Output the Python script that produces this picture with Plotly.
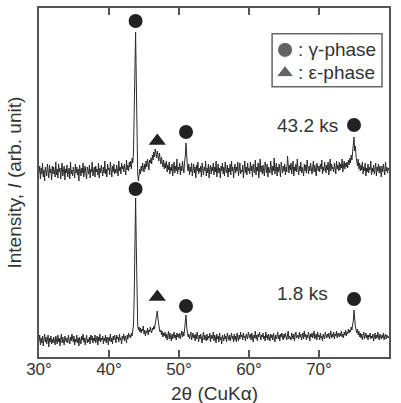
import numpy as np
import plotly.graph_objects as go

# 2-theta grid (degrees), 0.1 deg step
two_theta = np.round(np.linspace(30.0, 80.0, 501), 1)

# Upper pattern: 43.2 ks (arbitrary intensity units), one row per degree
upper_432ks = [
    184,191,178,189,183,194,180,187,176,190,
    185,181,193,186,179,192,184,188,177,191,
    183,190,186,180,195,182,188,179,193,185,
    189,178,187,194,181,186,191,177,188,184,
    192,180,186,189,178,195,183,187,181,190,
    186,179,193,184,190,182,188,176,192,185,
    181,189,184,194,180,187,191,183,178,190,
    187,183,192,179,188,185,195,181,186,190,
    180,191,185,188,182,194,179,189,184,192,
    186,181,190,184,196,183,188,180,193,187,
    189,182,195,186,180,191,185,193,183,188,
    184,192,187,181,196,186,190,183,194,188,
    191,185,193,188,182,197,187,192,186,195,
    190,196,188,199,194,205,240,295,325,275,
    215,184,176,181,188,183,191,186,194,189,
    185,193,188,196,190,198,192,187,197,194,
    199,193,202,197,205,200,208,203,199,206,
    201,196,204,198,193,200,195,190,197,188,
    194,189,196,185,192,187,195,183,190,186,
    193,181,189,195,184,191,186,198,183,190,
    187,194,182,191,186,196,189,184,195,201,
    214,199,190,186,193,182,190,185,194,181,
    188,193,184,190,179,192,186,195,183,189,
    185,191,180,194,187,182,190,186,196,181,
    189,184,193,179,188,192,183,190,186,194,
    182,190,185,196,180,188,193,184,189,179,
    191,186,194,183,190,181,195,187,184,192,
    180,189,185,193,182,196,186,190,179,188,
    193,184,190,186,195,181,189,194,183,187,
    185,192,179,188,196,184,190,182,194,186,
    189,183,195,186,191,180,193,187,184,197,
    182,190,186,194,179,189,198,185,191,183,
    192,186,181,195,188,184,193,180,190,187,
    184,196,189,182,191,186,199,183,188,194,
    181,190,185,193,187,180,195,189,184,191,
    186,193,182,190,185,201,188,184,192,187,
    194,183,189,196,181,190,186,193,185,198,
    188,182,191,186,195,184,190,187,181,193,
    186,192,184,197,189,183,191,186,194,188,
    183,190,196,185,192,187,181,194,189,186,
    191,185,193,188,197,183,190,186,195,189,
    184,192,187,195,182,190,198,186,193,188,
    190,185,194,189,183,196,188,192,186,195,
    187,193,189,198,185,191,196,188,194,190,
    195,189,197,192,199,194,202,197,205,210,
    220,206,211,200,196,191,198,188,194,186,
    192,187,195,183,190,186,194,181,189,185,
    193,184,190,187,196,182,189,185,192,183,
    188,194,181,190,186,193,184,191,187,180,
    191,185,193,188,182,195,186,190,184,189,
    187,
]

# Lower pattern: 1.8 ks
lower_18ks = [
    16,22,12,19,14,21,11,18,23,15,
    20,13,17,22,10,19,15,21,13,18,
    14,20,16,12,21,17,13,22,15,19,
    11,18,23,14,20,16,12,21,17,15,
    19,14,22,17,13,20,16,23,18,15,
    21,12,18,15,22,14,19,11,20,16,
    13,21,17,23,15,19,12,18,22,14,
    18,15,20,13,22,17,21,14,19,16,
    22,14,18,21,12,20,16,23,15,19,
    17,21,13,19,16,22,14,20,18,12,
    20,16,23,15,19,13,21,17,22,18,
    14,22,18,20,15,23,17,19,13,21,
    18,23,16,21,19,14,22,18,24,20,
    22,19,24,21,26,32,60,120,159,110,
    50,32,27,30,25,29,24,28,26,31,
    23,27,21,26,24,29,22,27,25,30,
    26,24,29,27,31,28,33,37,41,46,
    38,31,28,25,27,22,26,20,24,21,
    25,19,23,17,22,26,18,24,20,16,
    23,18,21,25,19,22,17,24,20,23,
    19,24,18,22,26,20,25,21,28,32,
    42,30,24,20,23,18,22,25,17,21,
    24,19,22,16,23,18,25,20,15,22,
    18,23,20,14,21,25,17,22,19,16,
    23,17,21,19,24,15,22,18,20,25,
    16,22,19,14,23,18,21,15,24,17,
    20,13,22,19,16,23,18,21,15,24,
    19,17,22,16,20,24,18,21,15,23,
    17,21,15,24,19,16,22,18,25,20,
    22,17,24,19,21,16,23,20,18,25,
    21,19,23,17,24,20,15,22,19,26,
    18,22,16,23,20,25,19,17,22,20,
    24,18,21,16,25,19,22,17,23,20,
    16,23,19,22,17,24,20,15,22,18,
    21,25,18,22,16,23,20,24,19,17,
    23,19,24,20,17,22,26,18,21,19,
    17,24,21,18,23,16,22,25,19,21,
    22,18,25,20,23,17,21,24,18,26,
    20,23,17,22,19,25,21,16,23,20,
    24,19,22,26,18,21,23,17,25,20,
    22,17,24,19,21,16,23,20,18,25,
    21,19,23,20,24,18,22,26,19,23,
    20,25,18,23,21,26,19,24,22,20,
    24,21,26,20,23,19,25,22,27,21,
    25,23,28,24,27,25,30,27,32,36,
    47,35,30,27,24,28,22,26,20,24,
    19,23,17,22,25,18,21,24,19,22,
    17,22,20,24,18,21,19,23,16,21,
    24,18,22,19,25,20,17,23,21,18,
    22,19,24,17,21,23,18,22,20,19,
    21,
]

# Phase markers (peak position, marker height)
gamma_upper_x = [43.8, 51.0, 75.0]
gamma_upper_y = [336, 225, 232]
eps_upper_x = [46.9]
eps_upper_y = [216]
gamma_lower_x = [43.8, 51.0, 75.0]
gamma_lower_y = [168, 51, 58]
eps_lower_x = [46.9]
eps_lower_y = [60]

tick_vals = [30, 40, 50, 60, 70, 80]
tick_text = ["30°", "40°", "50°", "60°", "70°", "80°"]

line_col = "#2a2a2a"
mark_col = "#222222"
axis_col = "#555555"
font_fam = "Liberation Sans, Arial, sans-serif"

fig = go.Figure()
for ys in (upper_432ks, lower_18ks):
    fig.add_trace(go.Scatter(x=two_theta, y=ys, mode="lines",
                             line=dict(color=line_col, width=1), showlegend=False,
                             hoverinfo="skip"))

fig.add_trace(go.Scatter(x=gamma_upper_x + gamma_lower_x, y=gamma_upper_y + gamma_lower_y,
                         mode="markers", marker=dict(symbol="circle", size=14, color=mark_col),
                         showlegend=False))
fig.add_trace(go.Scatter(x=eps_upper_x + eps_lower_x, y=eps_upper_y + eps_lower_y,
                         mode="markers", marker=dict(symbol="triangle-up", size=15, color=mark_col),
                         showlegend=False))

# legend symbols on a paper-like overlay axis
fig.add_trace(go.Scatter(x=[0.703, 0.703], y=[0.880, 0.814], mode="markers",
                         marker=dict(symbol=["circle", "triangle-up"], size=[15, 15], color=mark_col),
                         xaxis="x2", yaxis="y2", showlegend=False))

fig.update_layout(
    width=401, height=403,
    margin=dict(l=39, r=12, t=8, b=46, autoexpand=False),
    paper_bgcolor="white", plot_bgcolor="white",
    font=dict(family=font_fam, color="#333333", size=17),
    showlegend=False,
    xaxis=dict(range=[30, 80], tickvals=tick_vals, ticktext=tick_text,
               ticks="inside", ticklen=7, tickwidth=1.5, tickcolor=axis_col,
               showline=True, linecolor=axis_col, linewidth=1.5, mirror="ticks",
               showgrid=False, zeroline=False, tickfont=dict(size=17),
               ticklabelstandoff=-4, automargin=False),
    yaxis=dict(range=[0, 349], showticklabels=False, ticks="",
               showline=True, linecolor=axis_col, linewidth=1.5, mirror=True,
               showgrid=False, zeroline=False, automargin=False),
    xaxis2=dict(range=[0, 1], overlaying="x", visible=False),
    yaxis2=dict(range=[0, 1], overlaying="y", visible=False),
    shapes=[dict(type="rect", xref="paper", yref="paper",
                 x0=0.666, x1=0.98, y0=0.774, y1=0.926,
                 line=dict(color="#666666", width=1.5), fillcolor="white", layer="below")],
    annotations=[
        dict(text=": γ-phase", xref="paper", yref="paper", x=0.735, y=0.880,
             xanchor="left", yanchor="middle", showarrow=False, font=dict(size=19)),
        dict(text=": ε-phase", xref="paper", yref="paper", x=0.735, y=0.814,
             xanchor="left", yanchor="middle", showarrow=False, font=dict(size=19)),
        dict(text="43.2 ks", x=68.4, y=232, xref="x", yref="y", showarrow=False,
             font=dict(size=19)),
        dict(text="1.8 ks", x=67.7, y=64, xref="x", yref="y", showarrow=False,
             font=dict(size=19)),
        dict(text="2θ (CuKα)", xref="paper", yref="paper", x=0.5, y=0,
             yshift=-36, xanchor="center", yanchor="middle", showarrow=False,
             font=dict(size=19)),
        dict(text="Intensity, <i>I</i> (arb. unit)", xref="paper", yref="paper",
             x=0, y=0.5, xshift=-25, textangle=-90, showarrow=False,
             xanchor="center", yanchor="middle", font=dict(size=19)),
    ],
)

fig.write_html("out.html")
